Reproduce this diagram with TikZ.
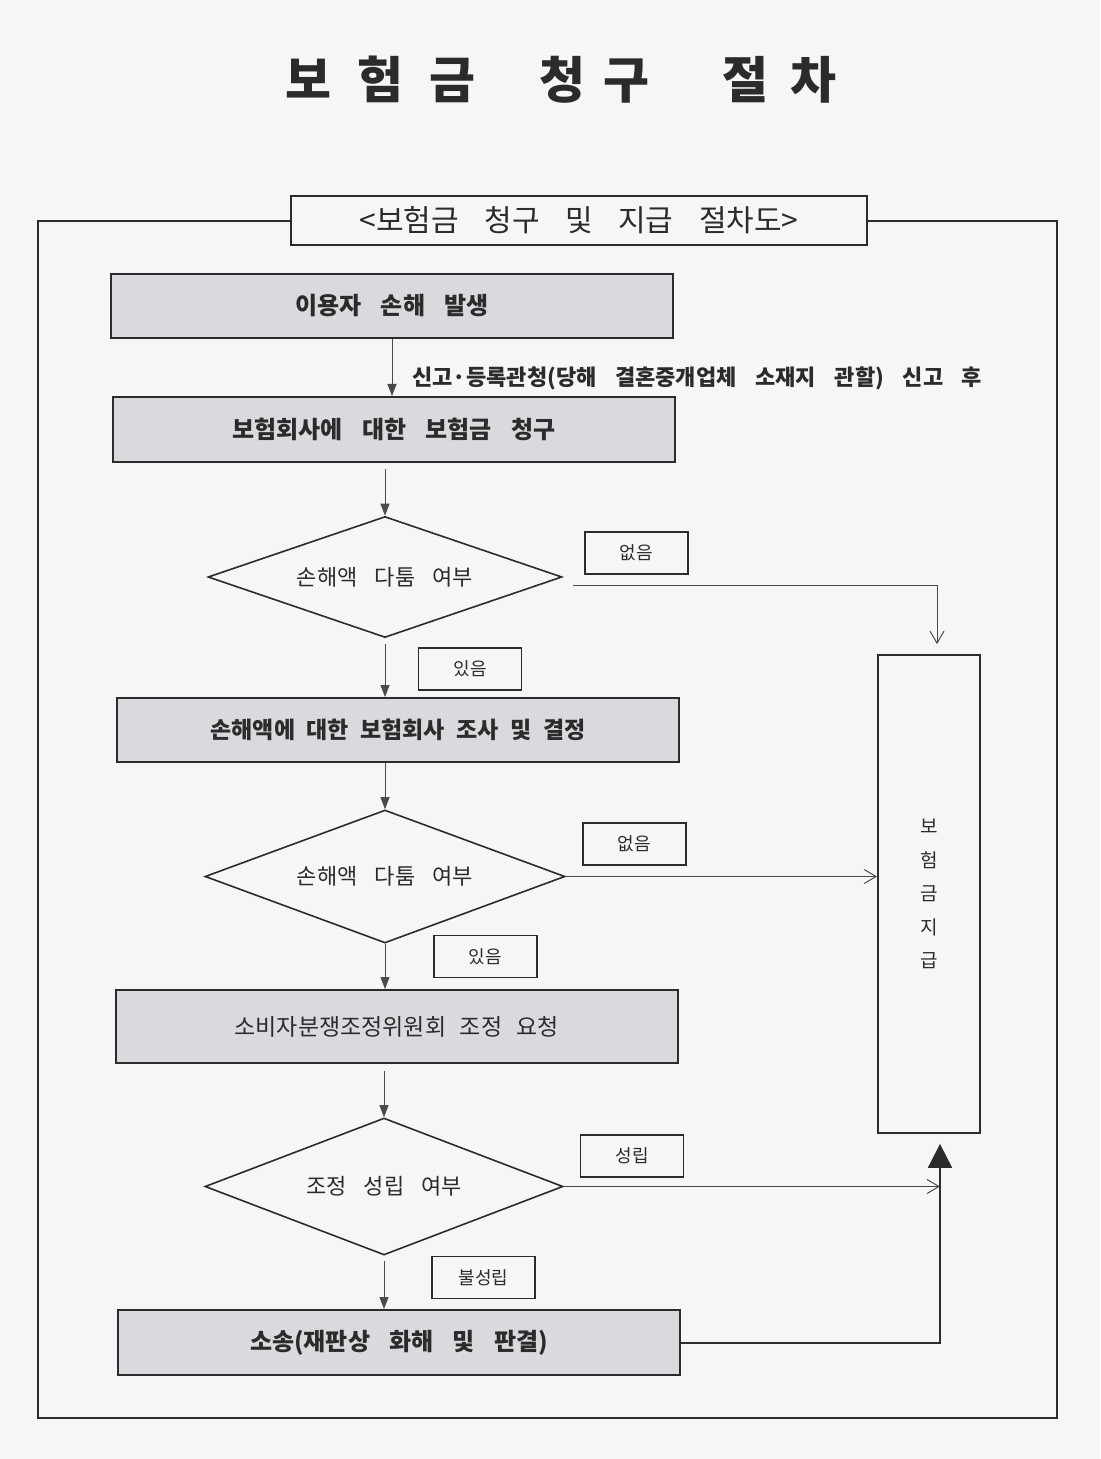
\documentclass[tikz,border=0pt]{standalone}
\usepackage{fontspec}
\setmainfont{Noto Sans CJK KR}[WordSpace=3.5]
\usetikzlibrary{shapes.geometric,arrows.meta,calc}
\definecolor{bg}{HTML}{F6F6F6}
\definecolor{boxfill}{HTML}{D9DADD}
\definecolor{ink}{HTML}{2B2B2B}
\definecolor{conn}{HTML}{4A4A4A}
\begin{document}
\begin{tikzpicture}[x=0.5pt,y=-0.5pt,
  stepbox/.style={draw=ink, line width=1pt, fill=boxfill, minimum width=281pt, minimum height=32pt, inner sep=0pt, font=\fontsize{12}{14}\selectfont\bfseries, text=ink},
  decbox/.style={diamond, draw=ink, line width=0.8pt, fill=bg, inner sep=0pt, font=\fontsize{11}{13}\selectfont, text=ink},
  lblbox/.style={draw=ink, line width=0.75pt, fill=bg, minimum width=51.5pt, minimum height=21pt, inner sep=0pt, font=\fontsize{9}{11}\selectfont, text=ink},
  flow/.style={draw=conn, line width=0.5pt, -{Triangle[length=6pt,width=4.5pt]}},
  side/.style={draw=conn, line width=0.5pt, -{Straight Barb[length=6pt,width=7pt]}}]
\fill[bg] (0,0) rectangle (1100,1459);
\useasboundingbox (0,0) rectangle (1100,1459);

% title
\node[font=\fontsize{25}{28}\selectfont\bfseries, text=ink] (title) at (560.5,80)
  {보\kern13pt 험\kern13pt 금\kern32pt 청\kern9pt 구\kern36.5pt 절\kern11pt 차};

% frame and subtitle
\draw[draw=ink, line width=0.8pt] (38,221) rectangle (1057,1418);
\node[draw=ink, line width=0.9pt, fill=bg, minimum width=288pt, minimum height=24.5pt, inner sep=0pt,
  font=\fontsize{15}{17}\selectfont, text=ink] (sub) at (579,220.5) {\spaceskip=0.85em <보험금 청구 및 지급 절차도>};

% main boxes
\node[stepbox] (b1) at (392,306) {이용자 손해 발생};
\node[stepbox, minimum height=32.5pt] (b2) at (394,429.5) {보험회사에 대한 보험금 청구};
\node[decbox, aspect=2.93, minimum width=177pt, minimum height=60.5pt] (d1) at (385,577) {손해액 다툼 여부};
\node[stepbox, font=\fontsize{11.5}{14}\selectfont\bfseries] (b3) at (398,730) {\spaceskip=0.5em 손해액에 대한 보험회사 조사 및 결정};
\node[decbox, aspect=2.71, minimum width=180pt, minimum height=66.5pt] (d2) at (385,876.5) {손해액 다툼 여부};
\node[stepbox, minimum height=36.5pt, font=\fontsize{11.5}{14}\selectfont] (b4) at (396.5,1026.5) {\spaceskip=0.6em 소비자분쟁조정위원회 조정 요청};
\node[decbox, aspect=2.61, minimum width=179pt, minimum height=68.5pt] (d3) at (384,1186.5) {조정 성립 여부};
\node[stepbox, minimum height=32.5pt] (b5) at (399,1342.5) {소송(재판상 화해 및 판결)};

% payment box
\node[draw=ink, line width=0.9pt, fill=bg, minimum width=51pt, minimum height=239pt, inner sep=0pt,
  font=\fontsize{9.5}{16.75}\selectfont, text=ink, align=center] (pay) at (929,894) {보\\험\\금\\지\\급};

% label boxes
\node[lblbox] (l1) at (636.5,553) {없음};
\node[lblbox] (l2) at (470,669) {있음};
\node[lblbox] (l3) at (634.5,844) {없음};
\node[lblbox] (l4) at (485.5,956.5) {있음};
\node[lblbox] (l5) at (632,1156) {성립};
\node[lblbox] (l6) at (483.5,1277.5) {불성립};

% vertical flow
\draw[flow] (b1.south -| 392,0) -- (b2.north -| 392,0);
\node[anchor=west, font=\fontsize{11}{12}\selectfont\bfseries, text=ink, inner sep=0pt] (note) at (412,378)
  {\spaceskip=0.85em 신고·등록관청(당해 결혼중개업체 소재지 관할) 신고 후};
\draw[flow, shorten <=3pt] (b2.south -| d1.north) -- (d1.north);
\draw[flow, shorten <=3pt] (d1.south) -- (d1.south |- b3.north);
\draw[flow] (b3.south -| d2.north) -- (d2.north);
\draw[flow] (d2.south) -- (d2.south |- b4.north);
\draw[flow, shorten <=3.5pt] (b4.south -| d3.north) -- (d3.north);
\draw[flow, shorten <=2.5pt] (d3.south) -- (d3.south |- b5.north);

% side connectors
\coordinate (p1) at ([xshift=4pt,yshift=5pt]pay.north);
\draw[side] ([xshift=5pt,yshift=-4pt]d1.east) -| (p1);
\draw[side] (d2.east) -- (d2.east -| pay.west);
\coordinate (up) at ([xshift=5.5pt,yshift=-5pt]pay.south);
\draw[side] (d3.east) -- (d3.east -| up);
\draw[draw=ink, line width=1pt, -{Triangle[length=12pt,width=12pt]}] (b5.east) -| (up);
\end{tikzpicture}
\end{document}
